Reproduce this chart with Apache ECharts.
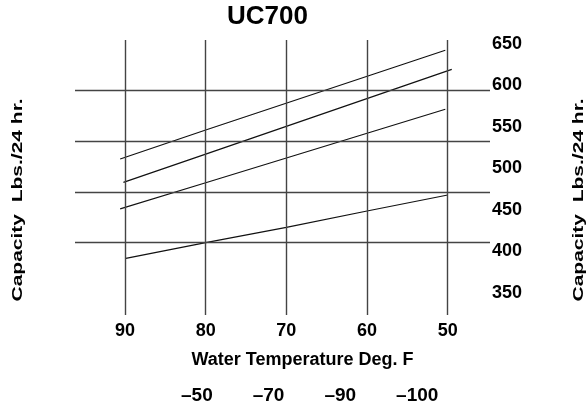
<!DOCTYPE html>
<html>
<head>
<meta charset="utf-8">
<script src="https://cdn.jsdelivr.net/npm/echarts@6/dist/echarts.min.js"></script>
<style>
  html, body { margin: 0; padding: 0; background: #fff; }
  #main { width: 588px; height: 412px; }
</style>
</head>
<body>
<div id="main"></div>
<script>
// water temperature ticks (deg F) and capacity ticks (lbs / 24 hr)
var tempTicks = [90, 80, 70, 60, 50];
var capTicks = [350, 400, 450, 500, 550, 600, 650];
// horizontal reference lines as drawn on the sheet
var refCaps = [593.3, 531.9, 471.3, 410.5];

// the four capacity curves, [water temp, capacity]
var seriesNames = ['–50', '–70', '–90', '–100'];
var line50 = [[90.6, 511], [80, 546], [50.3, 642]];
var line70 = [[90.2, 483], [80, 517], [49.5, 619]];
var line90 = [[90.6, 451], [80, 482.5], [50.3, 571]];
var line100 = [[89.9, 391.5], [80, 410.5], [70, 428.8], [60, 448.5], [50, 467.7]];
var curves = [line50, line70, line90, line100];

var FONT = '"Liberation Sans", Arial, sans-serif';

var myChart = echarts.init(document.getElementById('main'));

var series = curves.map(function (d, i) {
  return {
    name: seriesNames[i],
    type: 'line',
    data: d,
    showSymbol: false,
    silent: true,
    lineStyle: { color: '#111', width: 1.2 },
    itemStyle: { color: '#111' }
  };
});

// reference grid lines drawn with markLine on the first series
series[0].markLine = {
  silent: true,
  symbol: 'none',
  label: { show: false },
  lineStyle: { color: '#444', width: 1.4, type: 'solid' },
  data: tempTicks.map(function (t) { return { xAxis: t }; })
    .concat(refCaps.map(function (c) { return { yAxis: c }; }))
};

var option = {
  animation: false,
  title: {
    text: 'UC700',
    left: 227,
    top: 4,
    padding: 0,
    textStyle: { fontFamily: FONT, fontSize: 26, fontWeight: 'bold', color: '#000' }
  },
  legend: {
    data: seriesNames,
    top: 386,
    left: 176,
    padding: 0,
    icon: 'none',
    itemWidth: 0,
    itemGap: 35,
    selectedMode: false,
    textStyle: { fontFamily: FONT, fontSize: 19, fontWeight: 'bold', color: '#000' }
  },
  grid: { left: 75, right: 98, top: 40, bottom: 97 },
  xAxis: {
    type: 'value',
    inverse: true,
    min: 44.76,
    max: 96.2,
    name: 'Water Temperature Deg. F',
    nameLocation: 'middle',
    nameGap: 36,
    nameTextStyle: { fontFamily: FONT, fontSize: 18, fontWeight: 'bold', color: '#000', padding: [0, 0, 0, 40] },
    axisLine: { show: false },
    axisTick: { show: false },
    splitLine: { show: false },
    axisLabel: {
      customValues: tempTicks,
      margin: 7,
      fontFamily: FONT, fontSize: 18, fontWeight: 'bold', color: '#000'
    }
  },
  yAxis: {
    type: 'value',
    position: 'right',
    min: 323.3,
    max: 654.3,
    axisLine: { show: false },
    axisTick: { show: false },
    splitLine: { show: false },
    axisLabel: {
      customValues: capTicks,
      margin: 2,
      fontFamily: FONT, fontSize: 18, fontWeight: 'bold', color: '#000'
    }
  },
  graphic: [
    {
      type: 'text', x: 18, y: 200, rotation: Math.PI / 2, scaleX: 1.5,
      style: { text: 'Capacity  Lbs./24 hr.', font: 'bold 14px ' + FONT, fill: '#000', align: 'center', verticalAlign: 'middle' }
    },
    {
      type: 'text', x: 579, y: 200, rotation: Math.PI / 2, scaleX: 1.5,
      style: { text: 'Capacity  Lbs./24 hr.', font: 'bold 14px ' + FONT, fill: '#000', align: 'center', verticalAlign: 'middle' }
    }
  ],
  series: series
};

myChart.setOption(option);
</script>
</body>
</html>
